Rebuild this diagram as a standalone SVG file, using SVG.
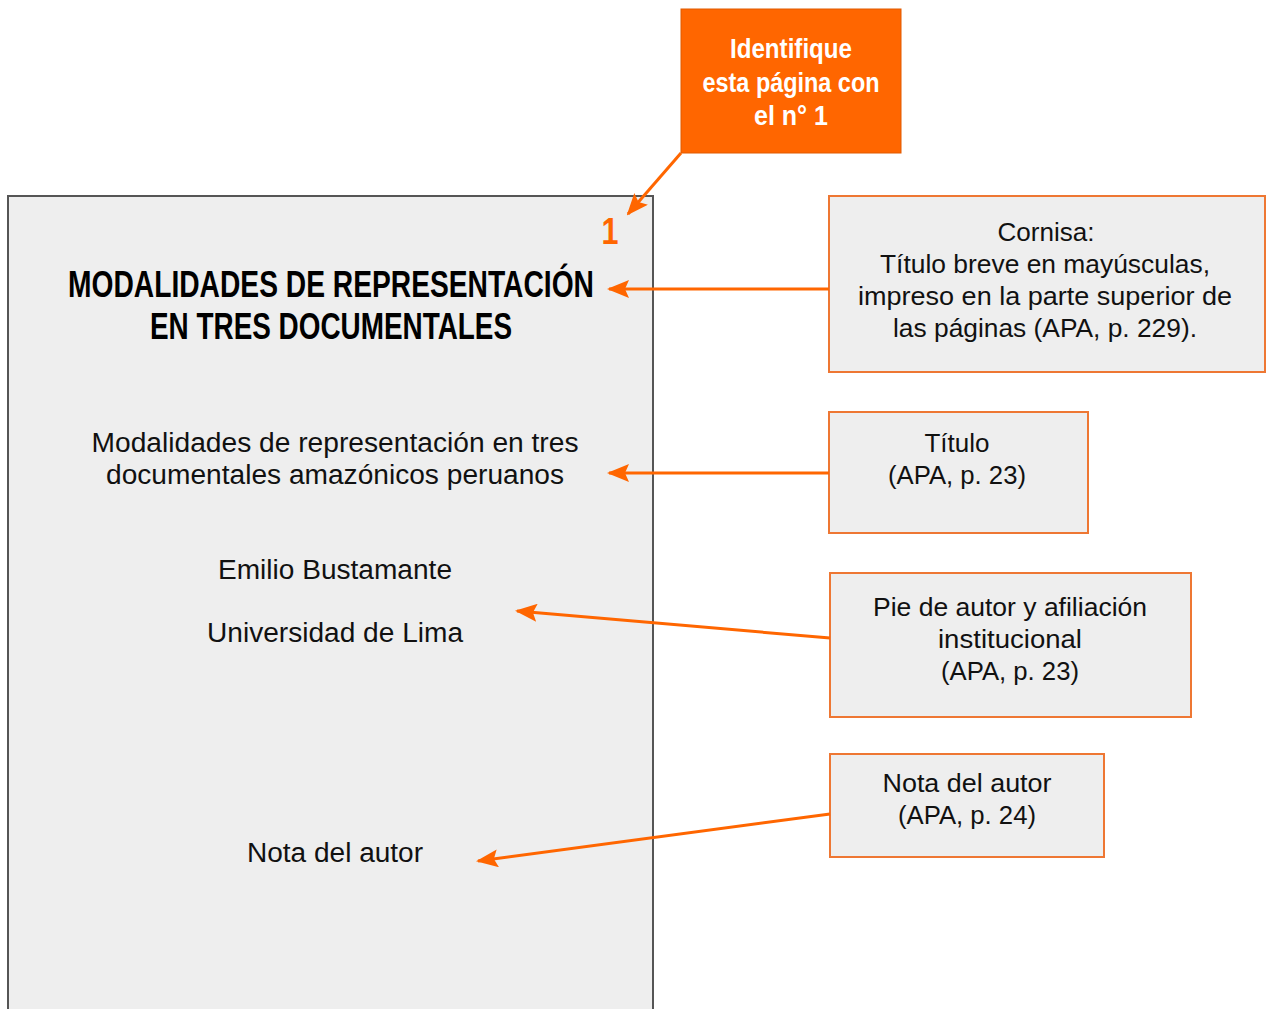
<svg xmlns="http://www.w3.org/2000/svg" width="1266" height="1009" viewBox="0 0 1266 1009">
<style>
.body{font-family:"Liberation Sans",Arial,sans-serif;font-size:27px;fill:#111;text-anchor:middle}
.note{font-family:"Liberation Sans",Arial,sans-serif;font-size:26px;fill:#111;text-anchor:middle}
.box{fill:#EEEEEE;stroke:#EE7733;stroke-width:2}
.cond{font-family:"Liberation Sans",Arial,sans-serif;font-weight:bold;text-anchor:middle}
.conn{stroke:#FF6600;stroke-width:3;fill:none;marker-end:url(#ah)}
</style>
<defs>
<marker id="ah" viewBox="0 0 22 18" refX="20" refY="9" markerWidth="22" markerHeight="18" orient="auto" markerUnits="userSpaceOnUse">
<path d="M0,0 L22,9 L0,18 L4,9 Z" fill="#FF6600"/>
</marker>
</defs>
<rect width="1266" height="1009" fill="#fff"/>
<g id="page">
<rect x="8" y="196" width="645" height="830" fill="#EEEEEE" stroke="#555" stroke-width="2"/>
<text x="610" y="244" class="cond" font-size="36" fill="#FF6600" textLength="17" lengthAdjust="spacingAndGlyphs">1</text>
<text x="331" y="297" class="cond" font-size="36" fill="#000" textLength="526" lengthAdjust="spacingAndGlyphs">MODALIDADES DE REPRESENTACIÓN</text>
<text x="331" y="339" class="cond" font-size="36" fill="#000" textLength="362" lengthAdjust="spacingAndGlyphs">EN TRES DOCUMENTALES</text>
<text x="335" y="452" class="body" textLength="487" lengthAdjust="spacingAndGlyphs">Modalidades de representación en tres</text>
<text x="335" y="484" class="body" textLength="458" lengthAdjust="spacingAndGlyphs">documentales amazónicos peruanos</text>
<text x="335" y="579" class="body" textLength="234" lengthAdjust="spacingAndGlyphs">Emilio Bustamante</text>
<text x="335" y="642" class="body" textLength="256" lengthAdjust="spacingAndGlyphs">Universidad de Lima</text>
<text x="335" y="862" class="body" textLength="176" lengthAdjust="spacingAndGlyphs">Nota del autor</text>
</g>
<g id="identifique">
<rect x="681" y="9" width="220" height="144" fill="#FF6600" stroke="#E05A00" stroke-width="1"/>
<text x="791" y="58" class="cond" font-size="27" fill="#fff" textLength="122" lengthAdjust="spacingAndGlyphs">Identifique</text>
<text x="791" y="92" class="cond" font-size="27" fill="#fff" textLength="177" lengthAdjust="spacingAndGlyphs">esta página con</text>
<text x="791" y="125" class="cond" font-size="27" fill="#fff" textLength="74" lengthAdjust="spacingAndGlyphs">el n° 1</text>
</g>
<g id="cornisa">
<rect x="829" y="196" width="436" height="176" class="box"/>
<text x="1046" y="241" class="note" textLength="97" lengthAdjust="spacingAndGlyphs">Cornisa:</text>
<text x="1045" y="273" class="note" textLength="330" lengthAdjust="spacingAndGlyphs">Título breve en mayúsculas,</text>
<text x="1045" y="305" class="note" textLength="374" lengthAdjust="spacingAndGlyphs">impreso en la parte superior de</text>
<text x="1045" y="337" class="note" textLength="304" lengthAdjust="spacingAndGlyphs">las páginas (APA, p. 229).</text>
</g>
<g id="titulo">
<rect x="829" y="412" width="259" height="121" class="box"/>
<text x="957" y="452" class="note" textLength="65" lengthAdjust="spacingAndGlyphs">Título</text>
<text x="957" y="484" class="note" textLength="138" lengthAdjust="spacingAndGlyphs">(APA, p. 23)</text>
</g>
<g id="pie">
<rect x="830" y="573" width="361" height="144" class="box"/>
<text x="1010" y="616" class="note" textLength="274" lengthAdjust="spacingAndGlyphs">Pie de autor y afiliación</text>
<text x="1010" y="648" class="note" textLength="144" lengthAdjust="spacingAndGlyphs">institucional</text>
<text x="1010" y="680" class="note" textLength="138" lengthAdjust="spacingAndGlyphs">(APA, p. 23)</text>
</g>
<g id="nota">
<rect x="830" y="754" width="274" height="103" class="box"/>
<text x="967" y="792" class="note" textLength="169" lengthAdjust="spacingAndGlyphs">Nota del autor</text>
<text x="967" y="824" class="note" textLength="138" lengthAdjust="spacingAndGlyphs">(APA, p. 24)</text>
</g>
<g id="connectors">
<line x1="681" y1="153" x2="628" y2="214" class="conn"/>
<line x1="829" y1="289" x2="609" y2="289" class="conn"/>
<line x1="829" y1="473" x2="609" y2="473" class="conn"/>
<line x1="830" y1="638" x2="517" y2="611" class="conn"/>
<line x1="830" y1="814" x2="478" y2="861" class="conn"/>
</g>
</svg>
